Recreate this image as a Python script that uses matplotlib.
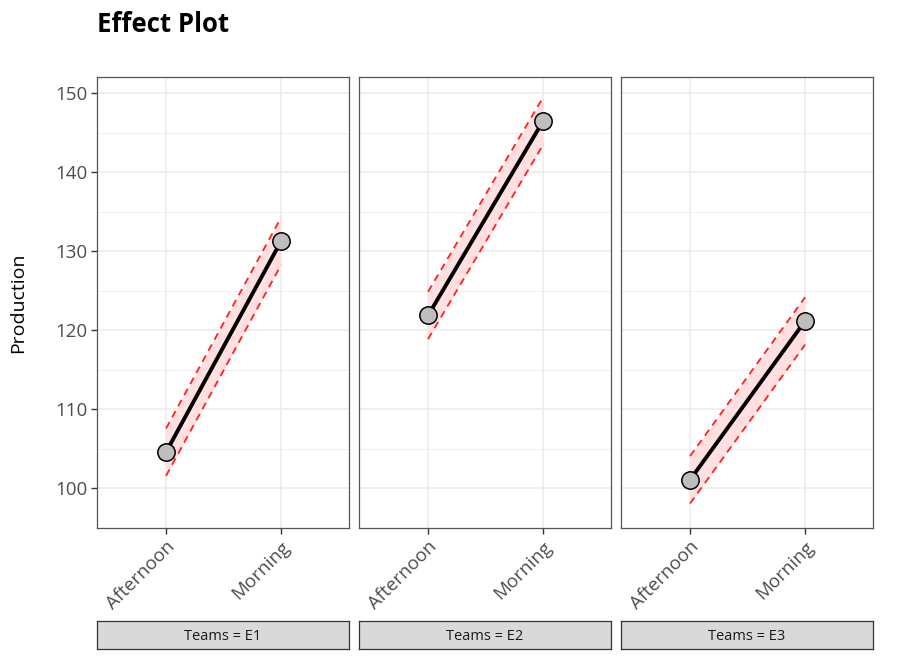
import matplotlib
matplotlib.use("Agg")
import matplotlib.pyplot as plt
import numpy as np

plt.rcParams['font.family'] = ['Open Sans', 'DejaVu Sans']

categories = ["Afternoon", "Morning"]
teams = ["E1", "E2", "E3"]
fit = [[104.6, 131.3], [121.9, 146.5], [101.1, 121.2]]
lower = [[101.6, 128.3], [118.9, 143.5], [98.1, 118.2]]
upper = [[107.6, 134.3], [124.9, 149.5], [104.1, 124.2]]
yticks = [100, 110, 120, 130, 140, 150]

fig = plt.figure(figsize=(9, 6.6), dpi=100)
W, H = 900, 660
lefts = [97, 359, 621]
pw = 252
top, bottom = 77, 528
x = np.arange(1, len(categories) + 1)

for i, team in enumerate(teams):
    ax = fig.add_axes([lefts[i] / W, (H - bottom) / H, pw / W, (bottom - top) / H])
    ax.fill_between(x, lower[i], upper[i], color='#ffdfdf', alpha=1, zorder=2, linewidth=0)
    ax.plot(x, lower[i], color='#ff2020', ls=(0, (4, 3)), lw=1.3, zorder=3)
    ax.plot(x, upper[i], color='#ff2020', ls=(0, (4, 3)), lw=1.3, zorder=3)
    ax.plot(x, fit[i], color='black', lw=2.8, zorder=4)
    ax.plot(x, fit[i], 'o', ms=12.5, mfc='#bebebe', mec='black', mew=1.1, zorder=5)
    ax.set_xlim(0.4, 2.59)
    ax.set_ylim(95.76, 152.07)
    ax.set_yticks(yticks)
    ax.set_yticks([95, 105, 115, 125, 135, 145], minor=True)
    ax.set_xticks(x)
    ax.set_xticklabels(categories, rotation=45, ha='right', rotation_mode='anchor')
    ax.grid(True, which='major', color='#ebebeb', lw=1.1, zorder=0)
    ax.grid(True, which='minor', axis='y', color='#ebebeb', lw=0.6, zorder=0)
    ax.set_axisbelow(True)
    ax.tick_params(axis='both', which='major', colors='#333333', labelcolor='#4d4d4d',
                   labelsize=13.5, length=4, width=1, pad=3)
    ax.tick_params(axis='y', which='minor', length=0)
    for s in ax.spines.values():
        s.set_color('#555555')
        s.set_linewidth(0.9)
    if i > 0:
        ax.tick_params(axis='y', left=False, labelleft=False)
    else:
        ax.set_ylabel("Production", fontsize=14, color='black', labelpad=20)
    # strip below
    sax = fig.add_axes([lefts[i] / W, (H - 649) / H, pw / W, 28 / H])
    sax.set_facecolor('#d9d9d9')
    sax.set_xticks([])
    sax.set_yticks([])
    for s in sax.spines.values():
        s.set_color('#333333')
        s.set_linewidth(0.9)
    sax.text(0.5, 0.5, f"Teams = {team}", ha='center', va='center_baseline', fontsize=10.5,
             color='#1a1a1a', transform=sax.transAxes)

fig.text(97 / W, 1 - 24 / H, "Effect Plot", fontsize=18.5, fontweight='bold',
         ha='left', va='center')

fig.savefig("out.png", dpi=100)
